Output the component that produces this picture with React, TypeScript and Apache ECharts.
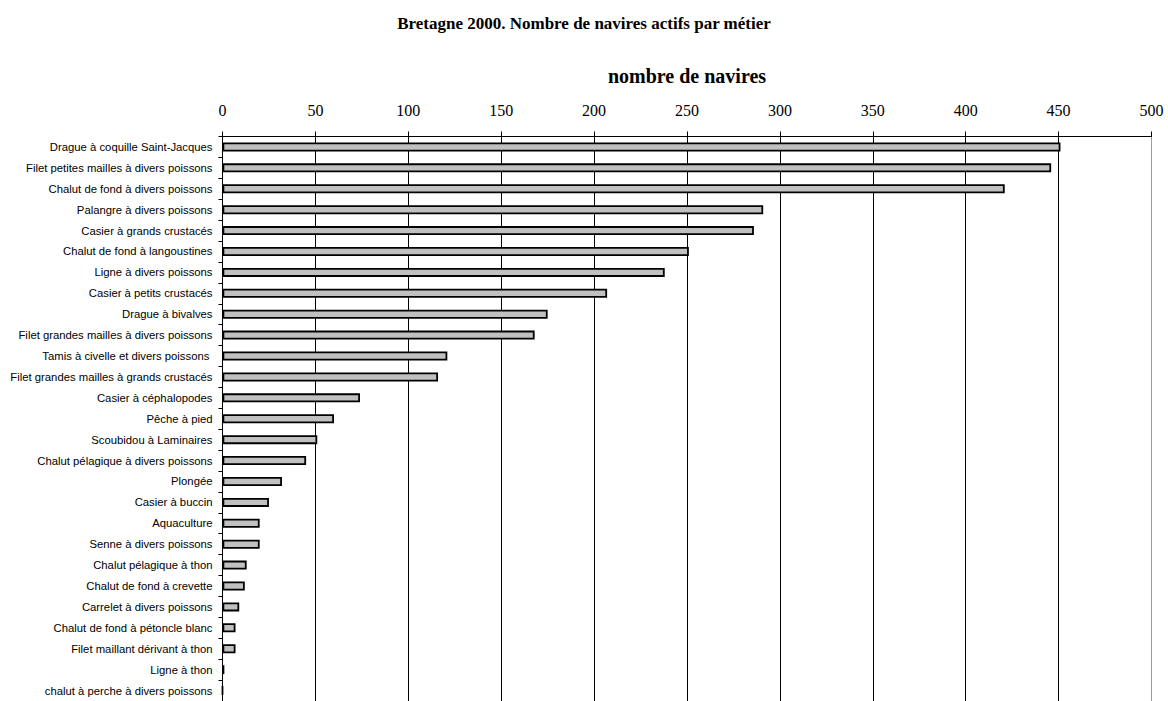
import React, { useEffect, useRef } from "react";
import * as echarts from "echarts";

// Fishing activities (métiers), in the order they are listed top to bottom
const metiers = [
  "Drague à coquille Saint-Jacques",
  "Filet petites mailles à divers poissons",
  "Chalut de fond à divers poissons",
  "Palangre à divers poissons",
  "Casier à grands crustacés",
  "Chalut de fond à langoustines",
  "Ligne à divers poissons",
  "Casier à petits crustacés",
  "Drague à bivalves",
  "Filet grandes mailles à divers poissons",
  "Tamis à civelle et divers poissons ",
  "Filet grandes mailles à grands crustacés",
  "Casier à céphalopodes",
  "Pêche à pied",
  "Scoubidou à Laminaires",
  "Chalut pélagique à divers poissons",
  "Plongée",
  "Casier à buccin",
  "Aquaculture",
  "Senne à divers poissons",
  "Chalut pélagique à thon",
  "Chalut de fond à crevette",
  "Carrelet à divers poissons",
  "Chalut de fond à pétoncle blanc",
  "Filet maillant dérivant à thon",
  "Ligne à thon",
  "chalut à perche à divers poissons",
];

// Number of active vessels per métier
const navires = [
  451, 446, 421, 291, 286, 251, 238, 207, 175, 168, 121, 116, 74, 60, 51, 45,
  32, 25, 20, 20, 13, 12, 9, 7, 7, 1, 0,
];

// Value axis range
const axisMin = 0;
const axisMax = 500;
const axisStep = 50;

const title = "Bretagne 2000. Nombre de navires actifs par métier";
const axisName = "nombre de navires";

export default function App() {
  const ref = useRef<HTMLDivElement>(null);

  useEffect(() => {
    if (!ref.current) return;
    const chart = echarts.init(ref.current, undefined, { renderer: "svg" });

    const tickCount = Math.round((axisMax - axisMin) / axisStep) + 1;
    const gridColors = Array.from({ length: tickCount }, (_, i) =>
      i === tickCount - 1 ? "#9a9a9a" : "#000000"
    );

    chart.setOption({
      animation: false,
      backgroundColor: "#ffffff",
      title: {
        text: title,
        left: "center",
        top: 10,
        textStyle: {
          fontFamily: "Liberation Serif",
          fontSize: 17,
          fontWeight: "bold",
          color: "#000",
        },
      },
      grid: {
        left: 222.5,
        right: 16.5,
        top: 136.5,
        height: 569.5,
        containLabel: false,
      },
      xAxis: {
        type: "value",
        position: "top",
        min: axisMin,
        max: axisMax,
        interval: axisStep,
        name: axisName,
        nameLocation: "middle",
        nameGap: 51,
        nameTextStyle: {
          fontFamily: "Liberation Serif",
          fontSize: 20,
          fontWeight: "bold",
          color: "#000",
        },
        axisLine: { show: true, lineStyle: { color: "#000", width: 1 } },
        axisTick: { show: true, length: 5, lineStyle: { color: "#000" } },
        axisLabel: {
          margin: 18,
          fontFamily: "Liberation Serif",
          fontSize: 16,
          color: "#000",
        },
        splitLine: {
          show: true,
          lineStyle: { color: gridColors, width: 1 },
        },
      },
      yAxis: {
        type: "category",
        data: metiers,
        inverse: true,
        axisLine: { show: true, lineStyle: { color: "#000", width: 1 } },
        axisTick: { show: true, length: 4, lineStyle: { color: "#000" } },
        axisLabel: {
          margin: 10,
          fontFamily: "Liberation Sans",
          fontSize: 11.3,
          color: "#000",
          interval: 0,
        },
        splitLine: { show: false },
      },
      series: [
        {
          type: "bar",
          data: navires,
          barWidth: 9,
          itemStyle: {
            color: "#c0c0c0",
            borderColor: "#000",
            borderWidth: 1.8,
          },
        },
      ],
    });

    return () => chart.dispose();
  }, []);

  return (
    <div
      ref={ref}
      style={{ position: "fixed", left: 0, top: 0, width: 1168, height: 701 }}
    />
  );
}
